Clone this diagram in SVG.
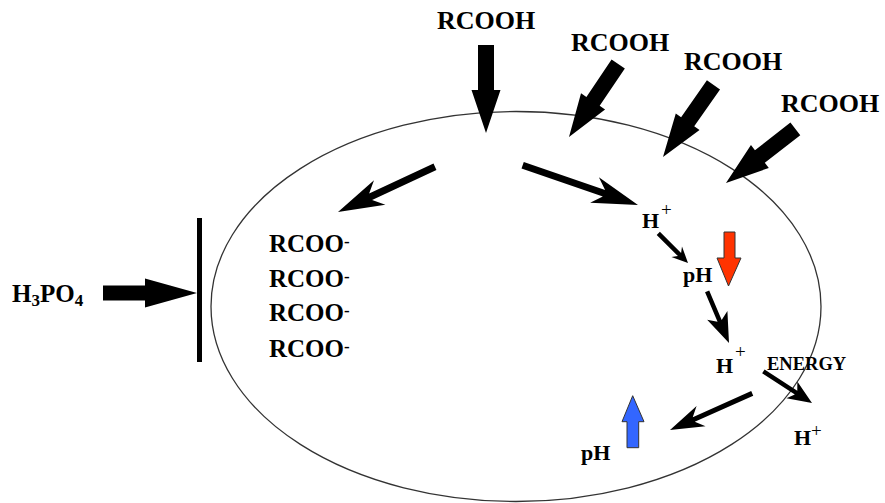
<svg xmlns="http://www.w3.org/2000/svg" width="885" height="503" viewBox="0 0 885 503">
<style>
.t{font-family:"Liberation Serif","Times New Roman",serif;font-weight:bold;fill:#000}
.big{font-size:26px}
.ion{font-size:25px}
.mid{font-size:22px}
.sup{font-weight:normal;font-size:19px}
.ar{fill:#000}
</style>
<defs>
<path id="bigArrow" d="M0,0 L-43,-14.5 L-43,-8 L-88,-8 L-88,8 L-43,8 L-43,14.5 Z"/>
</defs>
<rect width="885" height="503" fill="#fff"/>
<g id="cell">
<ellipse cx="516" cy="306.5" rx="305" ry="195" fill="none" stroke="#333" stroke-width="1.3"/>
</g>
<g id="membrane-bar">
<rect x="197" y="218" width="5" height="144" fill="#000"/>
</g>
<g id="rcooh-1"><text class="t big" x="437" y="29">RCOOH</text></g>
<g id="rcooh-2"><text class="t big" x="571" y="51">RCOOH</text></g>
<g id="rcooh-3"><text class="t big" x="684" y="70">RCOOH</text></g>
<g id="rcooh-4"><text class="t big" x="781" y="112">RCOOH</text></g>
<g id="h3po4"><text class="t" style="font-size:25px" x="12" y="302">H<tspan font-size="17" dy="4">3</tspan><tspan dy="-4">PO</tspan><tspan font-size="17" dy="4">4</tspan></text></g>
<g id="rcoo-list">
<text class="t ion" x="269" y="252">RCOO<tspan font-size="17" dy="-5">-</tspan></text>
<text class="t ion" x="269" y="287">RCOO<tspan font-size="17" dy="-5">-</tspan></text>
<text class="t ion" x="269" y="321">RCOO<tspan font-size="17" dy="-5">-</tspan></text>
<text class="t ion" x="269" y="357">RCOO<tspan font-size="17" dy="-5">-</tspan></text>
</g>
<g id="h-plus-1"><text class="t mid" x="642" y="228">H</text><text class="t sup" x="661" y="216">+</text></g>
<g id="ph-low"><text class="t mid" x="683" y="282">pH</text></g>
<g id="h-plus-2"><text class="t mid" x="716" y="373">H</text><text class="t sup" x="735" y="358">+</text></g>
<g id="energy"><text class="t" style="font-size:18.5px" x="767" y="370">ENERGY</text></g>
<g id="h-plus-3"><text class="t mid" x="794" y="445">H</text><text class="t sup" x="811" y="437">+</text></g>
<g id="ph-high"><text class="t mid" x="581" y="460">pH</text></g>
<g id="ph-down-indicator">
<polygon points="724,232 735,232 735,258 741,258 728.5,286 717,258 724,258" fill="#ff3300" stroke="#333" stroke-width="1"/>
</g>
<g id="ph-up-indicator">
<polygon points="632.7,395.7 644,421.7 638.7,421.7 638.7,447.7 627,447.7 627,421.7 622,421.7" fill="#3366ff" stroke="#333" stroke-width="1"/>
</g>
<g id="connectors">
<use href="#bigArrow" transform="translate(486,133) rotate(90)"/>
<use href="#bigArrow" transform="translate(569,137) rotate(124)"/>
<use href="#bigArrow" transform="translate(663,157) rotate(125)"/>
<use href="#bigArrow" transform="translate(726,183) rotate(142)"/>
<path class="ar" transform="translate(197,293)" d="M0,0 L-52,-14.5 L-52,-7.5 L-94,-7.5 L-94,7.5 L-52,7.5 L-52,14.5 Z"/>
<path class="ar" transform="translate(338,212) rotate(155)" d="M0,0 L-46,-13.5 L-36,-3.5 L-107,-3.5 L-107,3.5 L-36,3.5 L-46,13.5 Z"/>
<path class="ar" transform="translate(638,205) rotate(19)" d="M0,0 L-46,-13.5 L-36,-3.5 L-122,-3.5 L-122,3.5 L-36,3.5 L-46,13.5 Z"/>
<path class="ar" transform="translate(688,263) rotate(45)" d="M0,0 L-16,-7.5 L-12,-2.25 L-42,-2.25 L-42,2.25 L-12,2.25 L-16,7.5 Z"/>
<path class="ar" transform="translate(729,343) rotate(67)" d="M0,0 L-30,-11 L-24,-2.25 L-56,-2.25 L-56,2.25 L-24,2.25 L-30,11 Z"/>
<path class="ar" transform="translate(812,403) rotate(33)" d="M0,0 L-24,-10 L-19,-2.25 L-58,-2.25 L-58,2.25 L-19,2.25 L-24,10 Z"/>
<path class="ar" transform="translate(670,430) rotate(156)" d="M0,0 L-34,-11 L-26,-2.5 L-90,-2.5 L-90,2.5 L-26,2.5 L-34,11 Z"/>
</g>
</svg>
